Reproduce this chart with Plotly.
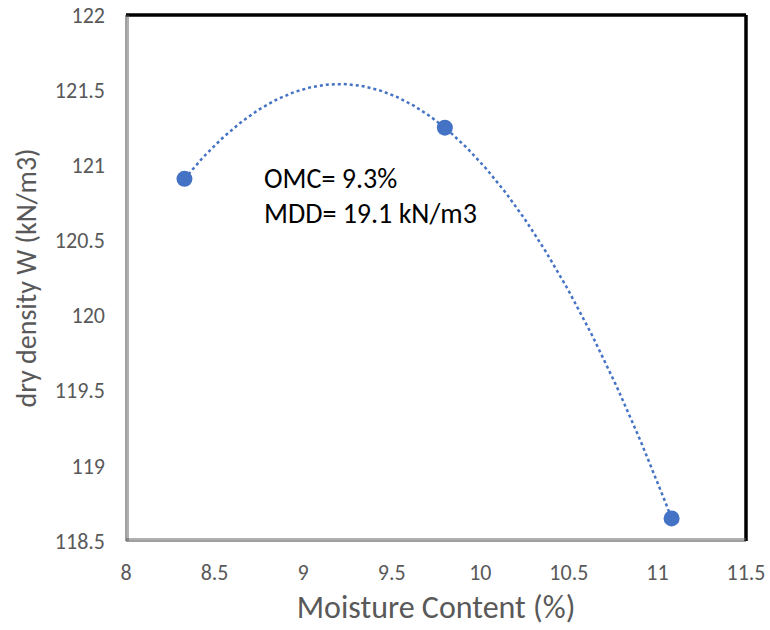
import numpy as np
import plotly.graph_objects as go

moisture = [8.33, 9.80, 11.08]
dry_density = [120.91, 121.25, 118.65]
x_ticks = [8, 8.5, 9, 9.5, 10, 10.5, 11, 11.5]
y_ticks = [118.5, 119, 119.5, 120, 120.5, 121, 121.5, 122]
notes = ["OMC= 9.3%", "MDD= 19.1 kN/m3"]
note_y = [120.91, 120.68]

FONT = "Carlito, Lato, Liberation Sans, sans-serif"
BLUE = "#4472C4"

# order-2 polynomial trendline (like Excel) computed from the data
coef = np.polyfit(moisture, dry_density, 2)
xs = np.linspace(min(moisture), max(moisture), 200)
ys = np.polyval(coef, xs)

fig = go.Figure()
fig.add_trace(go.Scatter(x=xs, y=ys, mode="lines",
                         line=dict(color=BLUE, width=2.5, dash="dot"),
                         hoverinfo="skip", showlegend=False))
fig.add_trace(go.Scatter(x=moisture, y=dry_density, mode="markers",
                         marker=dict(color=BLUE, size=16),
                         showlegend=False))

for t, yv in zip(notes, note_y):
    fig.add_annotation(x=8.77, y=yv, xref="x", yref="y", text=t,
                       showarrow=False, xanchor="left", yanchor="middle",
                       font=dict(family=FONT, size=28, color="#000000"))

# frame: thick black top/right, thin double grey left/bottom
fig.add_shape(type="line", xref="paper", yref="paper", x0=0, x1=1, y0=1, y1=1,
              line=dict(color="#000000", width=3.5))
fig.add_shape(type="line", xref="paper", yref="paper", x0=1, x1=1, y0=0, y1=1,
              line=dict(color="#000000", width=3.5))
fig.add_shape(type="line", xref="paper", yref="paper", x0=0, x1=0, y0=0, y1=1,
              line=dict(color="#404040", width=1))
fig.add_shape(type="line", xref="paper", yref="paper", x0=0, x1=1, y0=0, y1=0,
              line=dict(color="#404040", width=1))
fig.add_shape(type="line", xref="paper", yref="paper", xsizemode="pixel", xanchor=0,
              x0=2, x1=2, y0=0, y1=1, line=dict(color="#606060", width=1))
fig.add_shape(type="line", xref="paper", yref="paper", ysizemode="pixel", yanchor=0,
              x0=0, x1=1, y0=2, y1=2, line=dict(color="#606060", width=1))

fig.update_layout(
    width=770, height=630,
    margin=dict(l=126, r=24, t=15, b=89),
    paper_bgcolor="white", plot_bgcolor="white",
    font=dict(family=FONT, color="#595959"),
    xaxis=dict(range=[8, 11.5], tickvals=x_ticks, ticktext=[f"{v:g}" for v in x_ticks],
               showgrid=False, zeroline=False, showline=False, automargin=False,
               tickfont=dict(size=22, color="#595959"), ticklabelstandoff=16,
               title=dict(text="Moisture Content (%)", font=dict(size=32, color="#595959"),
                          standoff=10)),
    yaxis=dict(range=[118.5, 122], tickvals=y_ticks, ticktext=[f"{v:g}" for v in y_ticks],
               showgrid=False, zeroline=False, showline=False, automargin=False,
               tickfont=dict(size=22, color="#595959"), ticklabelstandoff=20,
               title=dict(text="dry density W (kN/m3)", font=dict(size=28, color="#595959"),
                          standoff=10)),
)

fig.write_html("out.html")
